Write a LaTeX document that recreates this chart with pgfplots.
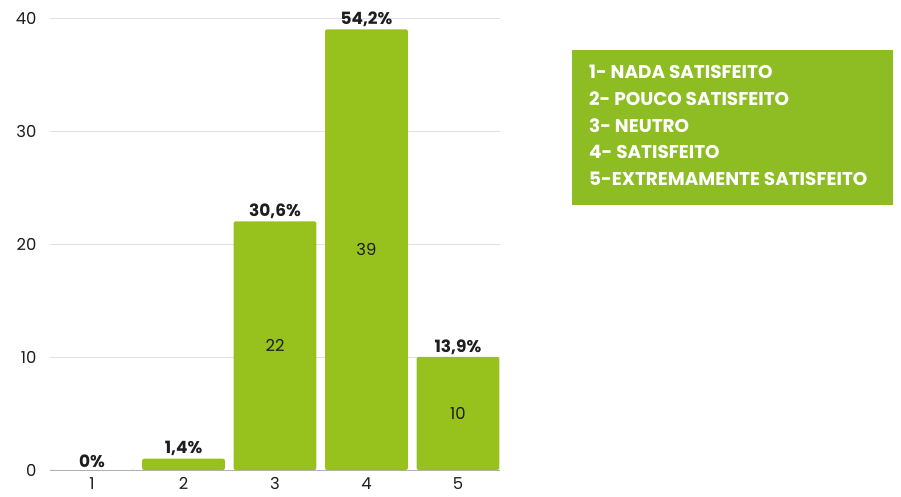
\documentclass[border=0pt]{standalone}
\usepackage{pgfplots}
\pgfplotsset{compat=1.18}
\usepackage{fontspec}
\setmainfont{Poppins}
\definecolor{bargreen}{RGB}{151,194,30}
\definecolor{boxgreen}{RGB}{141,189,34}
\definecolor{gridgray}{RGB}{225,225,225}
\definecolor{txt}{RGB}{30,30,30}
\begin{document}
\begin{tikzpicture}
\path[use as bounding box] (0,0) rectangle (901bp,497bp);
\begin{axis}[
  at={(50bp,27bp)}, anchor=south west,
  scale only axis, width=450bp, height=452bp,
  xmin=0.54, xmax=5.46, ymin=0, ymax=40,
  axis line style={draw=none},
  xtick={1,2,3,4,5}, ytick={0,10,20,30,40},
  major tick length=0pt,
  ymajorgrids, grid style={gridgray, line width=0.6bp},
  tick label style={font=\fontsize{16.5}{19}\selectfont, text=txt},
  /pgf/number format/assume math mode=true,
  yticklabel style={xshift=-10bp},
  xticklabel style={yshift=-4bp},
  clip=false,
]
\draw[gray!60, line width=0.8bp] (rel axis cs:0,0) -- (rel axis cs:1,0);
\addplot[ybar, bar width=0.905, fill=bargreen, draw=none, rounded corners=2bp,
  point meta=explicit symbolic, nodes near coords,
  nodes near coords style={font=\bfseries\fontsize{17}{20}\selectfont, text=txt, anchor=south, yshift=-1bp}]
  coordinates {(1,0)[0\%] (2,1)[1,4\%] (3,22)[30,6\%] (4,39)[54,2\%] (5,10)[13,9\%]};
\addplot[draw=none, mark=none, point meta=explicit symbolic, nodes near coords,
  nodes near coords style={font=\fontsize{16.5}{19}\selectfont, text=txt, anchor=center}]
  coordinates {(3,11)[22] (4,19.5)[39] (5,5)[10]};
\end{axis}
\fill[boxgreen] (572bp,292bp) rectangle (893bp,447bp);
\node[anchor=north west, align=left, text=white, inner sep=0pt,
  font=\bfseries\fontsize{18.5}{26.8}\selectfont] at (589bp,432bp)
  {1- NADA SATISFEITO\\2- POUCO SATISFEITO\\3- NEUTRO\\4- SATISFEITO\\5-EXTREMAMENTE SATISFEITO};
\end{tikzpicture}
\end{document}
